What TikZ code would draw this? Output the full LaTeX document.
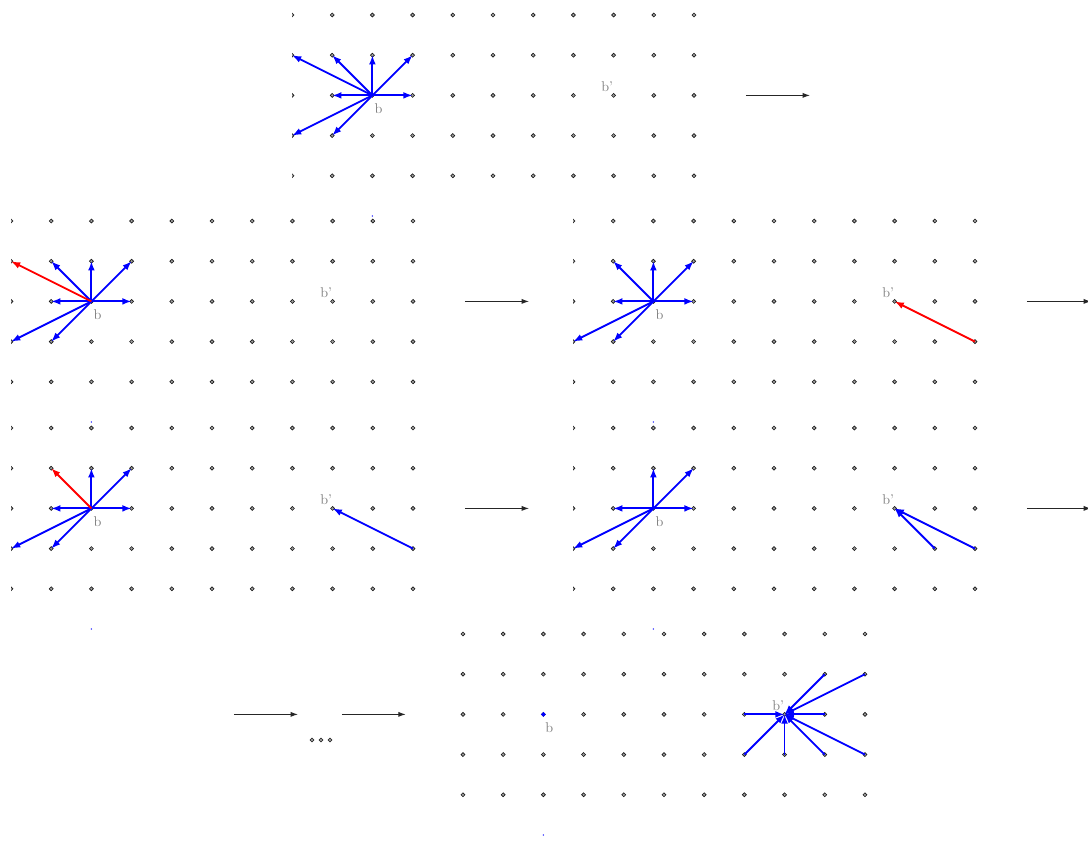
\documentclass[tikz,border=0pt]{standalone}
\usetikzlibrary{arrows.meta}

\tikzset{
  latdot/.style={circle,draw=black!90,fill=gray!75,line width=0.45pt,inner sep=0pt,minimum size=2.8pt},
  bdot/.style={latdot,draw=blue,fill=blue},
  tick/.style={circle,fill=blue,inner sep=0pt,minimum size=1pt},
  ptlabel/.style={text=gray,inner sep=0pt},
  move/.style={blue,line width=1.3pt,-{Latex[length=2.3mm,width=1.7mm]}},
  cut/.style={red,line width=1.3pt,-{Latex[length=2.3mm,width=1.7mm]}},
  stagearrow/.style={black!85,line width=0.8pt,-{Latex[length=1.9mm,width=1.3mm]}}
}

% 11 x 5 lattice, b at (2,-2), b' at (8,-2)
\newcommand{\dotgrid}[1]{%
  \foreach \i in {0,...,10}{
    \foreach \j in {0,...,4}{
      \node[latdot] (#1-\i-\j) at (\i,-\j) {};
    }
  }
  \node[ptlabel] (#1-lb) at ([shift={(0.15,-0.32)}]#1-2-2.center) {b};
  \node[ptlabel] (#1-lc) at ([shift={(-0.16,0.22)}]#1-8-2.center) {b'};
  \node[tick] (#1-mark) at (2,-5) {};
}

% one stage: name, shift x, shift y, drawing
\newcommand{\stage}[4]{%
  \begin{scope}[shift={(#2,#3)}]
    \clip (0,0.6) rectangle (13.6,-5.3);
    \dotgrid{#1}
    \coordinate (#1-from) at (11.29,-2);
    \coordinate (#1-to) at (12.89,-2);
    \draw[stagearrow] (#1-from) -- (#1-to);
    #4
  \end{scope}}

\begin{document}
\begin{tikzpicture}
\useasboundingbox (0,0) rectangle (27.065,-20.995);

\stage{P1}{7.264}{-0.373}{%
  \foreach \t in {3-2,1-2,2-1,3-1,1-1,0-1,0-3,1-3}
    \draw[move] (P1-2-2.center) -- (P1-\t.center);
}

\stage{P2}{0.274}{-5.498}{%
  \foreach \t in {3-2,1-2,2-1,3-1,1-1,0-3,1-3}
    \draw[move] (P2-2-2.center) -- (P2-\t.center);
  \draw[cut] (P2-2-2.center) -- (P2-0-1.center);
}

\stage{P3}{14.254}{-5.498}{%
  \foreach \t in {3-2,1-2,2-1,3-1,1-1,0-3,1-3}
    \draw[move] (P3-2-2.center) -- (P3-\t.center);
  \draw[cut] (P3-10-3.center) -- (P3-8-2.center);
}

\stage{P4}{0.274}{-10.647}{%
  \foreach \t in {3-2,1-2,2-1,3-1,0-3,1-3}
    \draw[move] (P4-2-2.center) -- (P4-\t.center);
  \draw[cut] (P4-2-2.center) -- (P4-1-1.center);
  \draw[move] (P4-10-3.center) -- (P4-8-2.center);
}

\stage{P5}{14.254}{-10.647}{%
  \foreach \t in {3-2,1-2,2-1,3-1,0-3,1-3}
    \draw[move] (P5-2-2.center) -- (P5-\t.center);
  \foreach \s in {9-3,10-3}
    \draw[move] (P5-\s.center) -- (P5-8-2.center);
}

% last stage
\begin{scope}[shift={(11.517,-15.771)}]
  \dotgrid{P6}
  \node[bdot] (P6-b) at (P6-2-2) {};
  \foreach \s in {7-2,7-3,8-3,9-3,10-3,9-2,9-1,10-1}
    \draw[move] (P6-\s.center) -- (P6-8-2.center);
  \coordinate (P6-a1) at (-5.70,-2);
  \coordinate (P6-a2) at (-4.10,-2);
  \coordinate (P6-a3) at (-3.01,-2);
  \coordinate (P6-a4) at (-1.42,-2);
  \draw[stagearrow] (P6-a1) -- (P6-a2);
  \draw[stagearrow] (P6-a3) -- (P6-a4);
  \foreach \x [count=\k] in {-3.756,-3.532,-3.308}
    \node[latdot] (P6-gap\k) at (\x,-2.637) {};
\end{scope}
\end{tikzpicture}
\end{document}
